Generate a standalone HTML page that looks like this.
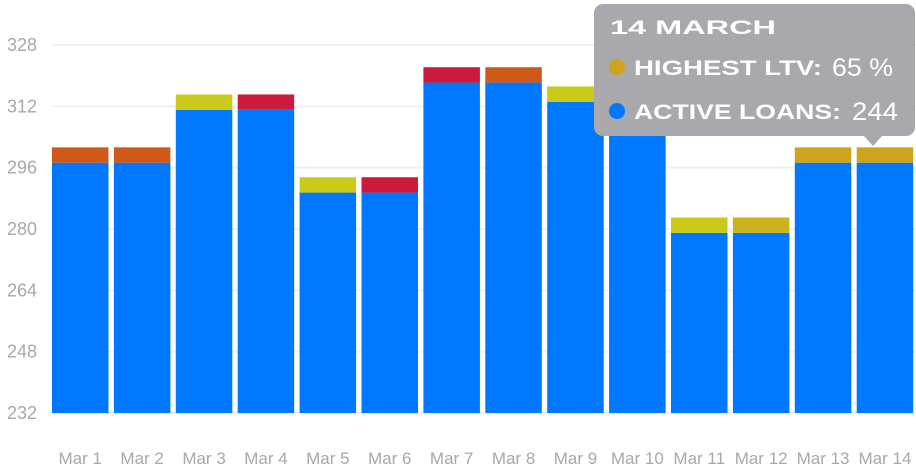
<!DOCTYPE html>
<html><head><meta charset="utf-8"><style>
body{margin:0;background:#fff;width:916px;height:469px;overflow:hidden;font-family:"Liberation Sans",sans-serif}
svg{display:block}
</style></head><body>
<svg id="chart" width="916" height="469" xmlns="http://www.w3.org/2000/svg">
<g id="grid"></g>
<g id="bars"></g>
<g id="ylab"></g>
<g id="xlab"></g>
<g>
<rect x="594" y="4" width="321" height="132" rx="9" fill="#a9a8ad"/>
<polygon points="863,135 883,135 873,146" fill="#a9a8ad"/>
<text x="610" y="34" font-size="19" font-weight="bold" fill="#fff" textLength="166" lengthAdjust="spacingAndGlyphs">14 MARCH</text>
<circle cx="617" cy="67" r="8" fill="#cca51c"/>
<text x="634" y="75" font-size="21" font-weight="bold" fill="#fff" textLength="188" lengthAdjust="spacingAndGlyphs">HIGHEST LTV:</text>
<text x="832" y="76" font-size="25" fill="#fff" textLength="61" lengthAdjust="spacingAndGlyphs">65 %</text>
<circle cx="617" cy="111" r="8" fill="#0077ff"/>
<text x="634" y="119" font-size="21" font-weight="bold" fill="#fff" textLength="207" lengthAdjust="spacingAndGlyphs">ACTIVE LOANS:</text>
<text x="852" y="120" font-size="25" fill="#fff" textLength="46" lengthAdjust="spacingAndGlyphs">244</text>
</g>
</svg>
<script>
const categories=["Mar 1","Mar 2","Mar 3","Mar 4","Mar 5","Mar 6","Mar 7","Mar 8","Mar 9","Mar 10","Mar 11","Mar 12","Mar 13","Mar 14"];
const baseValues=[297.3,297.3,311.1,311.1,289.5,289.5,318.2,318.2,313.2,314,279,279,297.3,297.3];
const capValues=[4,4,4,4,4,4,4,4,4,4,4,4,4,4];
const capColors=["#cf5a18","#cf5a18","#c9cb18","#cc1a3c","#c9cb18","#cc1a3c","#cc1a3c","#cf5a18","#c9cb18","#cf5a18","#c9cb18","#cdb21c","#cca51c","#cca51c"];
const yTicks=[232,248,264,280,296,312,328];
const NS="http://www.w3.org/2000/svg";
const y=v=>413-(v-232)*368/96;
const x=i=>52+i*61.9;
const bw=56.5;
function mk(t,a,p){const e=document.createElementNS(NS,t);for(const k in a)e.setAttribute(k,a[k]);p.appendChild(e);return e;}
const grid=document.getElementById('grid'),bars=document.getElementById('bars'),yl=document.getElementById('ylab'),xl=document.getElementById('xlab');
yTicks.forEach(t=>{
 const l=mk('line',{x1:52,x2:916,y1:y(t),y2:y(t),stroke:'#efeff4','stroke-width':2},grid);
 
 
 const tx=mk('text',{x:37,y:y(t)+6,'text-anchor':'end','font-size':18,fill:'#a8a8a8'},yl);
 tx.textContent=t;
 
 
});
categories.forEach((c,i)=>{
 const b=mk('rect',{x:x(i),y:y(baseValues[i]),width:bw,height:413-y(baseValues[i]),fill:'#0077ff'},bars);
 
 
 const top=baseValues[i]+capValues[i];
 const cp=mk('rect',{x:x(i),y:y(top),width:bw,height:y(baseValues[i])-y(top),fill:capColors[i]},bars);
 
 
 const tx=mk('text',{x:x(i)+bw/2,y:464,'text-anchor':'middle','font-size':17,fill:'#a8a8a8'},xl);
 tx.textContent=c;
 
 
});
</script>
</body></html>
